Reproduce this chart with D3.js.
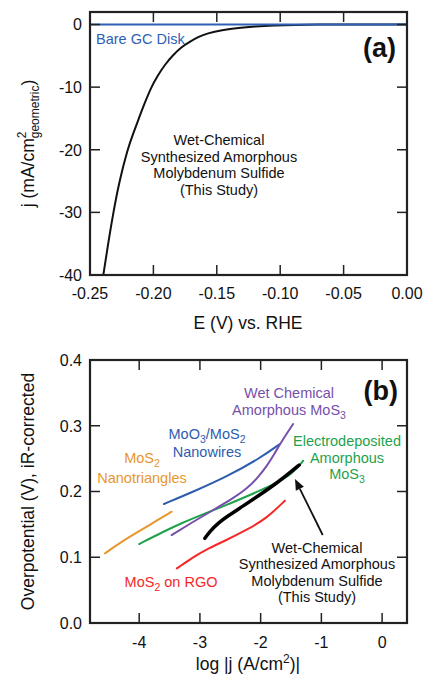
<!DOCTYPE html>
<html><head><meta charset="utf-8">
<script src="https://cdn.jsdelivr.net/npm/d3@7"></script>
<style>body{margin:0;background:#fff}svg{display:block}text{font-family:"Liberation Sans",Arial,Helvetica,sans-serif}</style>
</head><body>
<script>
// ---- Panel (a) data ----
const aXTicks = [-0.25, -0.20, -0.15, -0.10, -0.05, 0.00];
const aYTicks = [0, -10, -20, -30, -40];
const studyE = [-0.2395,-0.2357,-0.2316,-0.2268,-0.2205,-0.2159,-0.2115,-0.2070,-0.2017,-0.1970,-0.1910,-0.1844,-0.1780,-0.1713,-0.1648,-0.1575,-0.1460,-0.1330,-0.1200,-0.1050,-0.0880,-0.0700,-0.0500,0];
const studyJ = [-40,-35,-30,-25,-20,-17.4,-15,-12.6,-10,-8.3,-6.4,-4.87,-3.6,-2.75,-2.0,-1.4,-0.88,-0.51,-0.3,-0.15,-0.05,-0.01,0,0];
const bareE = [-0.25, 0];
const bareJ = [0, 0];

// ---- Panel (b) data ----
const bXTicks = [-4, -3, -2, -1, 0];
const bYTicks = [0.0, 0.1, 0.2, 0.3, 0.4];
const nanotriX = [-4.563,-4.288,-4.015,-3.740,-3.466];
const nanotriY = [0.106,0.1237,0.1389,0.1541,0.1693];
const nanowireX = [-3.592,-3.110,-2.560,-2.013,-1.684];
const nanowireY = [0.181,0.1997,0.2225,0.2505,0.2722];
const electroX = [-4.00,-3.60,-3.30,-2.946,-2.560,-2.177,-1.794,-1.465,-1.300];
const electroY = [0.1201,0.1390,0.1520,0.1655,0.1795,0.1947,0.2099,0.2277,0.2468];
const wetX = [-3.466,-3.110,-2.781,-2.452,-2.232,-2.067,-1.902,-1.766,-1.629,-1.465];
const wetY = [0.1338,0.1540,0.1719,0.1897,0.2040,0.2190,0.2380,0.2585,0.2800,0.3027];
const studyX = [-2.918,-2.830,-2.700,-2.560,-2.287,-2.013,-1.738,-1.465,-1.366];
const studyY = [0.1288,0.1400,0.1520,0.1615,0.1780,0.1950,0.2125,0.2327,0.2403];
const rgoX = [-3.380,-3.110,-2.918,-2.560,-2.232,-1.902,-1.601];
const rgoY = [0.083,0.100,0.1110,0.1262,0.1414,0.1592,0.186];

const W = 424, H = 676;
const svg = d3.select("body").append("svg").attr("width", W).attr("height", H);

function frame(g, x, y, xt, yt, fmtX, fmtY, tickLabelY) {
  const [x0, x1] = x.range(), [y0, y1] = y.range();
  const T = 10;
  xt.forEach(v => {
    g.append("line").attr("x1", x(v)).attr("x2", x(v)).attr("y1", y1).attr("y2", y1 + T).attr("stroke", "#222").attr("stroke-width", 1.5);
    g.append("line").attr("x1", x(v)).attr("x2", x(v)).attr("y1", y0).attr("y2", y0 - T).attr("stroke", "#222").attr("stroke-width", 1.5);
    g.append("text").attr("x", x(v)).attr("y", tickLabelY).attr("text-anchor", "middle").attr("font-size", 16).attr("fill", "#111").text(fmtX(v));
  });
  yt.forEach(v => {
    g.append("line").attr("x1", x0).attr("x2", x0 + T).attr("y1", y(v)).attr("y2", y(v)).attr("stroke", "#222").attr("stroke-width", 1.5);
    g.append("line").attr("x1", x1).attr("x2", x1 - T).attr("y1", y(v)).attr("y2", y(v)).attr("stroke", "#222").attr("stroke-width", 1.5);
    g.append("text").attr("x", x0 - 8).attr("y", y(v)).attr("dy", "0.36em").attr("text-anchor", "end").attr("font-size", 16).attr("fill", "#111").text(fmtY(v));
  });
  g.append("rect").attr("x", x0).attr("y", y1).attr("width", x1 - x0).attr("height", y0 - y1).attr("fill", "none").attr("stroke", "#222").attr("stroke-width", 2.2);
}
const minus = f => v => f(v).replace("\u2212", "-");

// ================= Panel (a) =================
const xa = d3.scaleLinear().domain([-0.25, 0]).range([90, 407]);
const ya = d3.scaleLinear().domain([-40, 2]).range([275, 12]);
const ga = svg.append("g");
const lineA = d3.line().x(d => xa(d[0])).y(d => ya(d[1])).curve(d3.curveBasis);
ga.append("path").datum(studyE.map((e, i) => [e, studyJ[i]])).attr("d", lineA).attr("fill", "none").attr("stroke", "#111").attr("stroke-width", 2);
ga.append("path").datum(bareE.map((e, i) => [e, bareJ[i]])).attr("d", lineA).attr("fill", "none").attr("stroke", "#2f5fb5").attr("stroke-width", 2);
frame(ga, xa, ya, aXTicks, aYTicks, minus(d3.format(".2f")), minus(d3.format("d")), 299);
ga.append("text").attr("x", 96).attr("y", 44).attr("font-size", 14.5).attr("fill", "#2f5fb5").text("Bare GC Disk");
ga.append("text").attr("x", 396).attr("y", 57).attr("text-anchor", "end").attr("font-family", "'Open Sans', sans-serif").attr("font-weight", "bold").attr("font-size", 27).attr("fill", "#111").text("(a)");
["Wet-Chemical", "Synthesized Amorphous", "Molybdenum Sulfide", "(This Study)"].forEach((t, i) => {
  ga.append("text").attr("x", 219).attr("y", 145 + i * 16.6).attr("text-anchor", "middle").attr("font-size", 14.5).attr("fill", "#111").text(t);
});
ga.append("text").attr("x", 248).attr("y", 329).attr("text-anchor", "middle").attr("font-size", 17.5).attr("fill", "#111").text("E (V) vs. RHE");
{
  const t = ga.append("text").attr("transform", `translate(34,${(12 + 275) / 2}) rotate(-90)`).attr("text-anchor", "middle").attr("font-size", 17.5).attr("fill", "#111");
  t.append("tspan").text("j (mA/cm");
  t.append("tspan").attr("font-size", 12).attr("dy", -8).text("2");
  t.append("tspan").attr("font-size", 12).attr("dx", -6.7).attr("dy", 13).text("geometric");
  t.append("tspan").attr("dy", -5).text(")");
}

// ================= Panel (b) =================
const xb = d3.scaleLinear().domain([-4.81, 0.41]).range([90, 407]);
const yb = d3.scaleLinear().domain([0, 0.4]).range([623, 360]);
const gb = svg.append("g");
const lineB = d3.line().x(d => xb(d[0])).y(d => yb(d[1])).curve(d3.curveBasis);
const seriesB = [
  { x: nanotriX, y: nanotriY, c: "#e8962e", w: 2 },
  { x: nanowireX, y: nanowireY, c: "#2e5cae", w: 2 },
  { x: electroX, y: electroY, c: "#1fa24c", w: 2 },
  { x: wetX, y: wetY, c: "#7650aa", w: 2 },
  { x: rgoX, y: rgoY, c: "#f52828", w: 2 },
  { x: studyX, y: studyY, c: "#000", w: 3.5 }
];
seriesB.forEach(s => {
  gb.append("path").datum(s.x.map((v, i) => [v, s.y[i]])).attr("d", lineB).attr("fill", "none").attr("stroke", s.c).attr("stroke-width", s.w).attr("stroke-linecap", "round");
});
frame(gb, xb, yb, bXTicks, bYTicks, minus(d3.format("d")), d3.format(".1f"), 648);
gb.append("text").attr("x", 398).attr("y", 400).attr("text-anchor", "end").attr("font-family", "'Open Sans', sans-serif").attr("font-weight", "bold").attr("font-size", 27).attr("fill", "#111").text("(b)");

function label(g, x, y, parts, color) {
  const t = g.append("text").attr("x", x).attr("y", y).attr("text-anchor", "middle").attr("font-size", 14.5).attr("fill", color);
  let shifted = false;
  parts.forEach(p => {
    if (typeof p === "string") {
      const s = t.append("tspan").text(p);
      if (shifted) { s.attr("dy", -4); shifted = false; }
    } else {
      t.append("tspan").attr("font-size", 10.5).attr("dy", 4).text(p.sub);
      shifted = true;
    }
  });
}
label(gb, 289, 398, ["Wet Chemical"], "#7650aa");
label(gb, 289, 414.5, ["Amorphous MoS", { sub: "3" }], "#7650aa");
label(gb, 207, 439, ["MoO", { sub: "3" }, "/MoS", { sub: "2" }], "#2e5cae");
label(gb, 207, 457, ["Nanowires"], "#2e5cae");
label(gb, 142, 463, ["MoS", { sub: "2" }], "#e8962e");
label(gb, 142, 483, ["Nanotriangles"], "#e8962e");
label(gb, 347, 446, ["Electrodeposited"], "#1fa24c");
label(gb, 347, 462.5, ["Amorphous"], "#1fa24c");
label(gb, 347, 479, ["MoS", { sub: "3" }], "#1fa24c");
["Wet-Chemical", "Synthesized Amorphous", "Molybdenum Sulfide", "(This Study)"].forEach((t, i) => {
  gb.append("text").attr("x", 317).attr("y", 553 + i * 16.3).attr("text-anchor", "middle").attr("font-size", 14.5).attr("fill", "#111").text(t);
});
label(gb, 171, 587, ["MoS", { sub: "2" }, " on RGO"], "#f52828");

// arrow
{
  const x1 = 322.7, y1 = 535, x2 = 295, y2 = 479;
  const ang = Math.atan2(y2 - y1, x2 - x1);
  const L = 11, Wd = 4.5;
  const bx = x2 - L * Math.cos(ang), by = y2 - L * Math.sin(ang);
  gb.append("line").attr("x1", x1).attr("y1", y1).attr("x2", bx).attr("y2", by).attr("stroke", "#111").attr("stroke-width", 1.8);
  gb.append("path").attr("d", `M${x2},${y2}L${bx + Wd * Math.sin(ang)},${by - Wd * Math.cos(ang)}L${bx - Wd * Math.sin(ang)},${by + Wd * Math.cos(ang)}Z`).attr("fill", "#111");
}

gb.append("text").attr("x", 248).attr("y", 670).attr("text-anchor", "middle").attr("font-size", 17.5).attr("fill", "#111")
  .call(t => { t.append("tspan").text("log |j (A/cm"); t.append("tspan").attr("font-size", 12).attr("dy", -7).text("2"); t.append("tspan").attr("dy", 7).text(")|"); });
gb.append("text").attr("transform", `translate(34,${(360 + 623) / 2}) rotate(-90)`).attr("text-anchor", "middle").attr("font-size", 17.5).attr("fill", "#111").text("Overpotential (V), iR-corrected");
</script>
</body></html>
